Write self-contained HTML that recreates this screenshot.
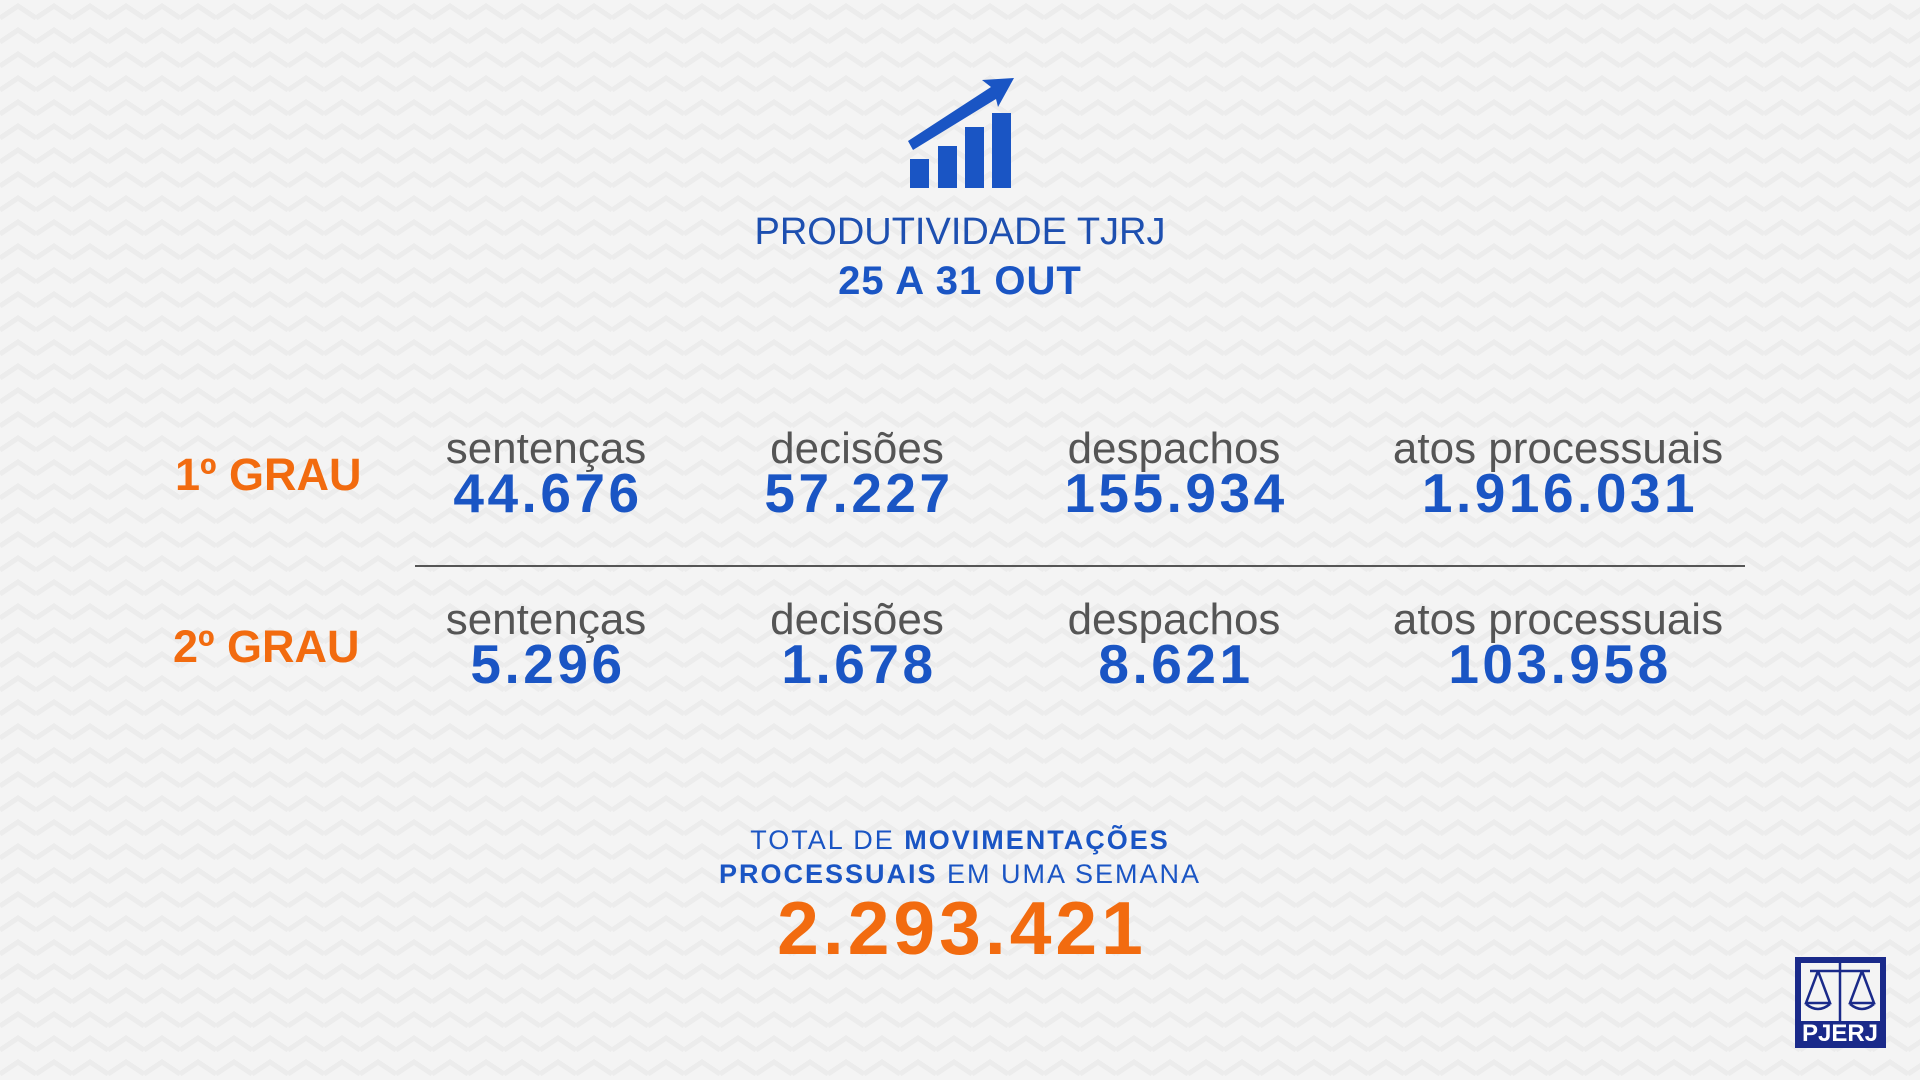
<!DOCTYPE html>
<html><head><meta charset="utf-8"><style>
html,body{margin:0;padding:0}
body{width:1920px;height:1080px;position:relative;overflow:hidden;background:#f4f4f4;font-family:"Liberation Sans",Arial,sans-serif}
.t{position:absolute;white-space:nowrap;line-height:1}
.c{transform:translateX(-50%)}
.lab{color:#555;font-size:44px}
.num{color:#1a55c4;font-size:55px;font-weight:bold;letter-spacing:3.5px}
.gr{color:#f26b0f;font-size:45px;font-weight:bold}
</style></head><body>
<svg width="1920" height="1080" style="position:absolute;left:0;top:0">
<defs><pattern id="z" width="36" height="24" patternUnits="userSpaceOnUse">
<polyline points="0,18 18,6 36,18" fill="none" stroke="#ececec" stroke-width="5"/></pattern></defs>
<rect width="1920" height="1080" fill="url(#z)"/>
<g fill="#1a55c4">
<rect x="910" y="159" width="19" height="29"/>
<rect x="938" y="146" width="19" height="42"/>
<rect x="965" y="127" width="19" height="61"/>
<rect x="992" y="113" width="19" height="75"/>
<polygon points="908,141 913,150 996,99 998,107 1014,78 982,80 991,87"/>
</g>
<line x1="415" y1="566" x2="1745" y2="566" stroke="#555" stroke-width="2"/>
<g>
<rect x="1795" y="957" width="91" height="91" fill="#1a2a8a"/>
<rect x="1801" y="963" width="79" height="58" fill="#f4f4f4"/>
<g stroke="#1a2a8a" stroke-width="2.5" fill="none">
<line x1="1840" y1="963" x2="1840" y2="1021"/><line x1="1810" y1="971" x2="1870" y2="971"/>
<polyline points="1818,971 1806,1003 1830,1003 1818,971"/>
<polyline points="1862,971 1850,1003 1874,1003 1862,971"/>
<path d="M1806,1004 Q1818,1014 1830,1004"/><path d="M1850,1004 Q1862,1014 1874,1004"/>
</g>
</g>
</svg>
<div class="t" style="top:1022px;transform:translateX(-50%);color:#fff;font-weight:bold;font-size:24px;left:1840px">PJERJ</div>

<div class="t c" style="left:960px;top:213px;color:#1d4fb0;font-size:38px">PRODUTIVIDADE TJRJ</div>
<div class="t c" style="left:960px;top:261px;color:#1a55c4;font-size:40px;font-weight:bold;letter-spacing:1px">25 A 31 OUT</div>

<div class="t gr" style="left:175px;top:452px">1º GRAU</div>
<div class="t gr" style="left:173px;top:624px">2º GRAU</div>

<div class="t c lab" style="left:546px;top:427px">sentenças</div>
<div class="t c lab" style="left:857px;top:427px">decisões</div>
<div class="t c lab" style="left:1174px;top:427px">despachos</div>
<div class="t c lab" style="left:1558px;top:427px">atos processuais</div>
<div class="t c num" style="left:548px;top:466px">44.676</div>
<div class="t c num" style="left:859px;top:466px">57.227</div>
<div class="t c num" style="left:1176px;top:466px">155.934</div>
<div class="t c num" style="left:1560px;top:466px">1.916.031</div>

<div class="t c lab" style="left:546px;top:598px">sentenças</div>
<div class="t c lab" style="left:857px;top:598px">decisões</div>
<div class="t c lab" style="left:1174px;top:598px">despachos</div>
<div class="t c lab" style="left:1558px;top:598px">atos processuais</div>
<div class="t c num" style="left:548px;top:637px">5.296</div>
<div class="t c num" style="left:859px;top:637px">1.678</div>
<div class="t c num" style="left:1176px;top:637px">8.621</div>
<div class="t c num" style="left:1560px;top:637px">103.958</div>

<div class="t c" style="left:960px;top:827px;color:#1a55c4;font-size:27px;letter-spacing:2px">TOTAL DE <b>MOVIMENTAÇÕES</b></div>
<div class="t c" style="left:960px;top:861px;color:#1a55c4;font-size:27px;letter-spacing:2px"><b>PROCESSUAIS</b> EM UMA SEMANA</div>
<div class="t c" style="left:962px;top:891px;color:#f26b0f;font-size:75px;font-weight:bold;letter-spacing:4px">2.293.421</div>
</body></html>
